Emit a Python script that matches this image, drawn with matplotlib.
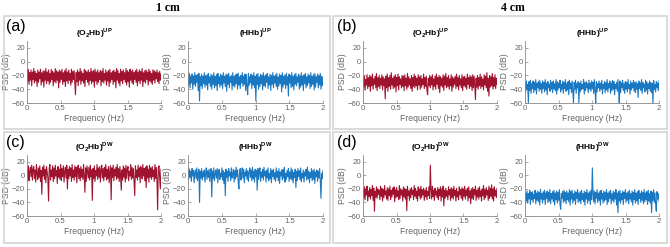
import numpy as np
import matplotlib.pyplot as plt
from matplotlib.patches import Rectangle

RED = "#A0132F"
BLUE = "#1A78C2"
GRAY = "#666666"

# PSD traces (dB), 200 samples spread over 0-2 Hz
o2hb_up_1cm = [
    -13,-29,-11,-33,-16,-27,-12,-35,-15,-26, -10,-31,-14,-28,-17,-36,-12,-30,-15,-25,
    -11,-34,-16,-29,-13,-37,-14,-27,-10,-32, -15,-28,-12,-33,-17,-30,-11,-26,-14,-35,
    -16,-29,-10,-31,-13,-27,-15,-38,-12,-30, -14,-26,-11,-33,-16,-29,-13,-36,-10,-28,
    -15,-32,-12,-27,-17,-34,-11,-30,-14,-26, -13,-31,-48,-16,-29,-12,-35,-15,-27,-10,
    -33,-14,-28,-17,-31,-11,-36,-13,-26,-15, -30,-12,-34,-16,-27,-10,-32,-14,-29,-13,
    -37,-11,-28,-15,-33,-12,-30,-16,-26,-13, -35,-14,-29,-10,-31,-17,-27,-12,-34,-15,
    -28,-13,-36,-11,-30,-16,-26,-14,-33,-12, -29,-15,-38,-10,-27,-13,-31,-17,-35,-11,
    -28,-14,-32,-12,-26,-16,-30,-10,-34,-13, -29,-15,-37,-11,-27,-14,-31,-12,-33,-16,
    -26,-13,-30,-11,-35,-15,-28,-12,-32,-14, -27,-10,-36,-16,-29,-13,-31,-12,-26,-15,
    -34,-11,-28,-14,-30,-17,-33,-12,-27,-13, -31,-15,-25,-12,-29,-16,-32,-14,-27,-18]
hhb_up_1cm = [
    -19,-34,-17,-38,-22,-31,-18,-40,-21,-33, -16,-36,-20,-30,-19,-42,-17,-57,-22,-35,
    -18,-39,-21,-32,-16,-37,-20,-34,-19,-41, -17,-31,-22,-36,-18,-40,-20,-33,-16,-38,
    -21,-35,-19,-42,-17,-32,-22,-37,-18,-34, -20,-39,-16,-31,-21,-36,-18,-43,-19,-33,
    -17,-38,-22,-30,-20,-41,-16,-35,-21,-37, -19,-32,-18,-40,-17,-34,-22,-39,-20,-31,
    -16,-36,-21,-33,-18,-42,-19,-37,-48,-17, -35,-22,-31,-18,-39,-20,-34,-16,-38,-21,
    -57,-19,-33,-17,-40,-22,-36,-18,-32,-20, -41,-16,-35,-21,-37,-19,-30,-17,-39,-22,
    -34,-18,-42,-20,-33,-16,-38,-21,-31,-19, -36,-17,-40,-22,-35,-18,-32,-20,-44,-16,
    -37,-21,-33,-19,-39,-17,-34,-22,-50,-18, -31,-20,-38,-16,-36,-21,-41,-19,-33,-17,
    -35,-22,-30,-18,-40,-20,-37,-16,-34,-21, -42,-19,-32,-17,-38,-22,-35,-18,-31,-20,
    -39,-16,-36,-21,-33,-19,-41,-17,-37,-22, -30,-18,-38,-20,-34,-17,-40,-21,-35,-23]
o2hb_up_4cm = [
    -24,-37,-21,-41,-26,-34,-19,-39,-23,-36, -20,-43,-22,-35,-18,-40,-25,-33,-21,-38,
    -17,-42,-23,-36,-20,-39,-24,-34,-19,-41, -22,-35,-25,-54,-21,-38,-18,-43,-23,-36,
    -20,-40,-16,-34,-24,-39,-21,-37,-19,-44, -23,-35,-18,-41,-22,-33,-25,-38,-20,-36,
    -21,-42,-19,-35,-24,-40,-17,-37,-22,-34, -25,-39,-20,-43,-23,-36,-18,-38,-21,-35,
    -24,-41,-19,-34,-22,-40,-20,-37,-25,-33, -18,-39,-23,-36,-21,-42,-48,-24,-35,-20,
    -38,-22,-34,-19,-41,-25,-36,-21,-40,-18, -33,-23,-39,-20,-45,-22,-35,-24,-37,-19,
    -42,-21,-34,-17,-38,-23,-36,-20,-40,-25, -35,-19,-43,-22,-37,-24,-33,-21,-39,-18,
    -36,-23,-41,-20,-34,-25,-38,-19,-42,-22, -35,-21,-37,-24,-40,-18,-33,-23,-39,-20,
    -36,-22,-42,-19,-38,-21,-34,-55,-24,-37, -20,-40,-23,-35,-18,-39,-22,-36,-25,-41,
    -19,-34,-21,-38,-16,-43,-24,-50,-20,-37, -22,-35,-17,-40,-23,-36,-19,-39,-24,-33]
hhb_up_4cm = [
    -31,-44,-28,-40,-33,-60,-29,-42,-27,-46, -32,-39,-28,-45,-30,-41,-26,-47,-31,-38,
    -29,-43,-27,-40,-32,-46,-28,-39,-30,-44, -26,-41,-31,-48,-29,-38,-33,-43,-27,-40,
    -30,-45,-28,-39,-32,-42,-26,-47,-29,-41, -31,-38,-27,-44,-33,-40,-28,-46,-30,-39,
    -26,-43,-32,-41,-29,-48,-27,-39,-31,-45, -28,-42,-60,-30,-40,-27,-46,-32,-38,-29,
    -60,-31,-44,-28,-41,-33,-39,-26,-47,-30, -42,-29,-38,-32,-45,-27,-40,-31,-43,-28,
    -39,-30,-46,-26,-41,-60,-29,-44,-32,-38, -28,-43,-31,-40,-27,-47,-33,-39,-29,-45,
    -30,-41,-26,-44,-32,-38,-28,-46,-31,-42, -27,-40,-29,-48,-33,-39,-30,-43,-26,-41,
    -60,-28,-45,-31,-38,-27,-42,-32,-46,-29, -40,-30,-44,-26,-39,-33,-47,-28,-41,-31,
    -38,-27,-43,-30,-45,-29,-40,-32,-52,-28, -39,-31,-42,-26,-46,-30,-38,-33,-44,-27,
    -41,-29,-47,-32,-39,-28,-43,-30,-45,-31, -60,-27,-40,-33,-44,-29,-38,-31,-42,-28]
o2hb_dw_1cm = [
    10,-4,14,-8,6,12,-2,15,-7,9, 13,-5,8,-10,16,3,-6,11,-3,14,
    -9,7,-28,12,-1,15,-6,9,-11,13, 5,-4,-38,10,16,-7,8,-2,14,-9,
    11,-5,15,-1,7,-12,13,-3,9,-6, 16,-8,10,-2,14,-10,6,12,-4,15,
    -20,9,-5,13,-1,11,-9,16,-3,8, -7,14,-2,12,-11,6,15,-5,10,-8,
    13,-3,9,-6,16,-1,-25,11,-9,14, 5,-4,12,-7,15,-2,8,-37,10,-5,
    14,-9,7,-1,16,-6,11,-3,13,-10, 8,15,-4,10,-8,12,-2,16,-7,9,
    -5,13,-11,6,14,-36,11,-3,15,-8, 9,-1,12,-6,16,-4,10,-9,13,-2,
    -22,8,-7,14,-3,11,-10,15,-5,9, 13,-8,6,-1,16,-6,12,-4,10,-9,
    -30,14,-3,8,-7,15,-2,11,-11,13, 7,-5,16,-1,10,-8,12,-18,14,-4,
    9,-10,15,-3,11,-6,13,-2,8,-9, 16,-5,12,-7,-51,10,14,-4,-20,9]
hhb_dw_1cm = [
    13,-6,9,-3,6,-9,10,-1,7,-11, 4,8,-5,11,-8,2,9,-40,6,-4,
    10,-7,5,-2,8,-10,3,11,-6,7, -3,9,-9,4,10,-32,6,-5,11,-8,
    2,8,-4,10,-11,5,9,-6,3,-2, 11,-7,7,-12,4,-30,9,-3,6,-9,
    10,-1,5,-8,11,-4,2,9,-10,7, -5,12,-2,8,-9,-20,6,10,-7,3,
    11,-4,9,-11,5,-1,10,-6,7,-9, 4,11,-3,8,-8,12,-5,6,-10,9,
    -2,7,-22,10,-6,4,11,-9,5,-3, 9,-7,12,-1,6,-10,8,-4,11,-8,
    3,-5,10,-11,7,-2,9,-6,4,-9, 11,-3,6,-8,10,-12,5,-1,8,-7,
    9,-4,12,-10,3,-6,7,-2,10,-9, 5,-5,11,-7,8,-11,4,-3,9,-18,
    6,-8,10,-2,7,-6,11,-9,3,-4, 8,-10,5,-1,9,-7,12,-5,6,-11,
    4,-3,10,-8,7,-6,9,-12,5,-2, 8,-9,6,-4,10,-7,-34,3,-5,7]
o2hb_dw_4cm = [
    -22,-33,-17,-36,-20,-29,-16,-38,-23,-31, -18,-35,-21,-30,-15,-37,-19,-53,-24,-32,
    -17,-34,-20,-28,-22,-36,-16,-31,-19,-38, -21,-33,-15,-29,-23,-35,-18,-37,-20,-30,
    -16,-36,-22,-32,-19,-28,-17,-39,-21,-33, -18,-31,-23,-36,-15,-34,-20,-29,-22,-38,
    -17,-32,-19,-35,-21,-52,-16,-30,-23,-37, -20,-33,-18,-28,-22,-36,-15,-31,-19,-34,
    -23,-38,-17,-30,-20,-35,-16,-33,-21,-29, -19,-37,-22,-32,-18,-36,-24,-30,-17,-34,
    15,-20,-35,-16,-31,-22,-37,-19,-29,-23, -33,-18,-36,-21,-30,-17,-38,-20,-32,-16,
    -45,-22,-34,-19,-31,-23,-36,-17,-29,-21, -37,-18,-33,-20,-35,-16,-30,-22,-38,-19,
    -32,-24,-36,-17,-29,-21,-34,-18,-37,-20, -31,-16,-35,-22,-30,-19,-38,-17,-33,-23,
    -42,-20,-34,-18,-36,-21,-29,-16,-37,-22, -32,-19,-35,-17,-31,-23,-38,-20,-30,-15,
    -36,-21,-33,-18,-29,-22,-37,-16,-34,-19, -31,-14,-35,-20,-38,-17,-30,-22,-33,-19]
hhb_dw_4cm = [
    -45,-26,-38,-23,-41,-27,-35,-22,-43,-25, -36,-24,-40,-28,-34,-22,-42,-26,-37,-23,
    -39,-25,-44,-21,-35,-27,-41,-24,-36,-22, -43,-26,-34,-23,-40,-25,-38,-21,-42,-27,
    -35,-24,-39,-22,-44,-26,-36,-23,-41,-25, -37,-21,-43,-50,-27,-34,-24,-40,-22,-38,
    -25,-42,-23,-36,-26,-39,-21,-44,-24,-35, -22,-41,-27,-37,-23,-43,-25,-34,-21,-40,
    -26,-38,-24,-42,-22,-36,-27,-39,-23,-44, -25,-35,-21,-41,-26,-37,-24,-43,-22,-36,
    11,-27,-39,-23,-42,-25,-34,-21,-40,-26, -37,-24,-44,-22,-35,-27,-41,-23,-38,-25,
    -36,-21,-43,-26,-39,-24,-34,-22,-42,-27, -37,-23,-40,-25,-35,-21,-44,-26,-55,-24,
    -38,-22,-41,-27,-36,-23,-43,-25,-34,-21, -40,-26,-37,-24,-42,-22,-35,-27,-39,-23,
    -44,-25,-36,-21,-41,-26,-38,-24,-43,-22, -34,-27,-40,-23,-37,-25,-42,-21,-39,-26,
    -36,-24,-43,-22,-38,-27,-41,-23,-55,-25, -37,-21,-40,-26,-42,-53,-24,-35,-27,-38]

xticks = [0, 0.5, 1, 1.5, 2]
xticklabels = ["0", "0.5", "1", "1.5", "2"]
yticks = [-60, -40, -20, 0, 20]

W, H = 670, 247
fig = plt.figure(figsize=(W / 100, H / 100), dpi=100)
plt.rcParams['font.family'] = ['Liberation Sans', 'DejaVu Sans']
plt.rcParams['mathtext.fontset'] = 'custom'
plt.rcParams['mathtext.bf'] = 'Liberation Sans:bold'


def px(x0, y_top, w, h):
    return [x0 / W, 1 - (y_top + h) / H, w / W, h / H]


def panel(rect, vals, color, title):
    ax = fig.add_axes(rect)
    f = np.linspace(0, 2, len(vals))
    ax.plot(f, vals, color=color, lw=0.8)
    ax.set_xlim(0, 2)
    ax.set_ylim(-60, 30)
    ax.set_xticks(xticks)
    ax.set_xticklabels(xticklabels)
    ax.set_yticks(yticks)
    for s in ["top", "right"]:
        ax.spines[s].set_visible(False)
    for s in ["left", "bottom"]:
        ax.spines[s].set_color("#888888")
        ax.spines[s].set_linewidth(0.6)
    ax.tick_params(direction="in", length=2, width=0.5, colors="#888888",
                   labelcolor=GRAY, labelsize=5.6, pad=1.5)
    ax.set_xlabel("Frequency (Hz)", fontsize=6.2, color=GRAY, labelpad=1.5)
    ax.set_ylabel("PSD (dB)", fontsize=6.2, color=GRAY, labelpad=0.5)
    ax.set_title(title, fontsize=6, fontweight="bold", pad=4)
    return ax


t_o2_up = r"(O$_\mathbf{2}$Hb)$^\mathbf{UP}$"
t_hh_up = r"(HHb)$^\mathbf{UP}$"
t_o2_dw = r"(O$_\mathbf{2}$Hb)$^\mathbf{DW}$"
t_hh_dw = r"(HHb)$^\mathbf{DW}$"

top_y, top_h = 41, 62
bot_y, bot_h = 155, 61
panel(px(27, top_y, 134, top_h), o2hb_up_1cm, RED, t_o2_up)
panel(px(188, top_y, 135, top_h), hhb_up_1cm, BLUE, t_hh_up)
panel(px(363, top_y, 134, top_h), o2hb_up_4cm, RED, t_o2_up)
panel(px(525, top_y, 134, top_h), hhb_up_4cm, BLUE, t_hh_up)
panel(px(27, bot_y, 134, bot_h), o2hb_dw_1cm, RED, t_o2_dw)
panel(px(188, bot_y, 135, bot_h), hhb_dw_1cm, BLUE, t_hh_dw)
panel(px(363, bot_y, 134, bot_h), o2hb_dw_4cm, RED, t_o2_dw)
panel(px(525, bot_y, 134, bot_h), hhb_dw_4cm, BLUE, t_hh_dw)

# grey frames round each group
for (x0, y0, x1, y1) in [(4, 16, 330, 129), (333, 16, 667, 129),
                         (4, 132, 330, 243), (333, 132, 667, 243)]:
    fig.patches.append(Rectangle((x0 / W, 1 - y1 / H), (x1 - x0) / W, (y1 - y0) / H,
                                 transform=fig.transFigure, fill=False,
                                 edgecolor="#d4d4d4", lw=1.2))

fig.text(168 / W, 1 - 8 / H, "1 cm", ha="center", va="center", fontsize=8.5,
         fontweight="bold", family="Liberation Serif")
fig.text(513 / W, 1 - 8 / H, "4 cm", ha="center", va="center", fontsize=8.5,
         fontweight="bold", family="Liberation Serif")
for lab, x, y in [("(a)", 6, 27), ("(b)", 337, 27), ("(c)", 6, 142), ("(d)", 337, 142)]:
    fig.text(x / W, 1 - y / H, lab, ha="left", va="center", fontsize=11.5)

fig.savefig("out.png", dpi=100)
